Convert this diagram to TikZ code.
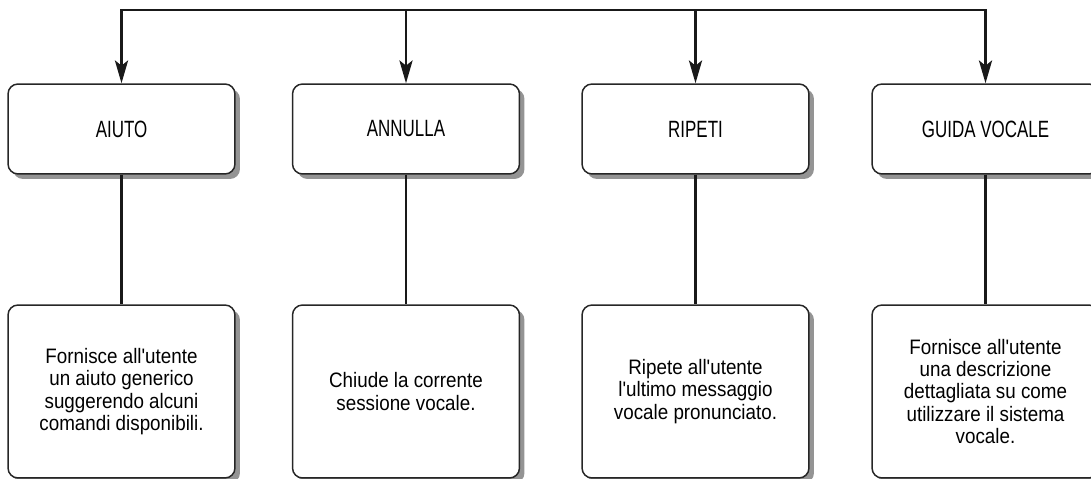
\documentclass[tikz,border=0pt]{standalone}
\usepackage{fontspec}
\setmainfont{Liberation Sans}
\newfontfamily\headfont[FakeStretch=0.72]{Liberation Sans}
\newfontfamily\descfont[FakeStretch=0.9]{Liberation Sans}
\usetikzlibrary{arrows.meta}
\usetikzlibrary{shadows}

\begin{document}
\begin{tikzpicture}[x=0.02cm, y=-0.02cm,
    box/.style={draw=black!85, line width=0.85pt, rounded corners=0.2cm, fill=white,
      drop shadow={shadow xshift=0.1cm, shadow yshift=-0.1cm, fill=black!42, opacity=1}},
    headbox/.style={box, minimum width=4.54cm, minimum height=1.8cm,
      font=\headfont\fontsize{13.4}{15}\selectfont},
    descbox/.style={box, minimum width=4.54cm, minimum height=3.46cm, align=center,
      font=\descfont\fontsize{11.9}{12.7}\selectfont},
    wire/.style={line width=1.4pt, black!90}]
    \useasboundingbox (0,0) rectangle (1091,479);
    \coordinate (bus) at (0,10);
    % comandi
    \node[headbox] (aiuto) at (121.5,129) {AIUTO};
    \node[headbox] (annulla) at (406,129) {ANNULLA};
    \node[headbox] (ripeti) at (695.5,129) {RIPETI};
    \node[headbox] (guida) at (985.5,129) {GUIDA VOCALE};
    % descrizioni
    \node[descbox] (aiuto-txt) at (121.5,391.5) {Fornisce all'utente\\un aiuto generico\\suggerendo alcuni\\comandi disponibili.};
    \node[descbox] (annulla-txt) at (406,391.5) {Chiude la corrente\\sessione vocale.};
    \node[descbox] (ripeti-txt) at (695.5,391.5) {Ripete all'utente\\l'ultimo messaggio\\vocale pronunciato.};
    \node[descbox] (guida-txt) at (985.5,391.5) {Fornisce all'utente\\una descrizione\\dettagliata su come\\utilizzare il sistema\\vocale.};
    \draw[wire, line cap=rect] (aiuto.north |- bus) -- (guida.north |- bus);
    \foreach \n in {aiuto,annulla,ripeti,guida} {
      \draw[wire, -{Stealth[length=13pt, width=7.5pt, inset=3pt]}] (\n.north |- bus) -- (\n.north);
      \draw[wire] (\n.south) -- (\n-txt.north);
    }
\end{tikzpicture}
\end{document}
